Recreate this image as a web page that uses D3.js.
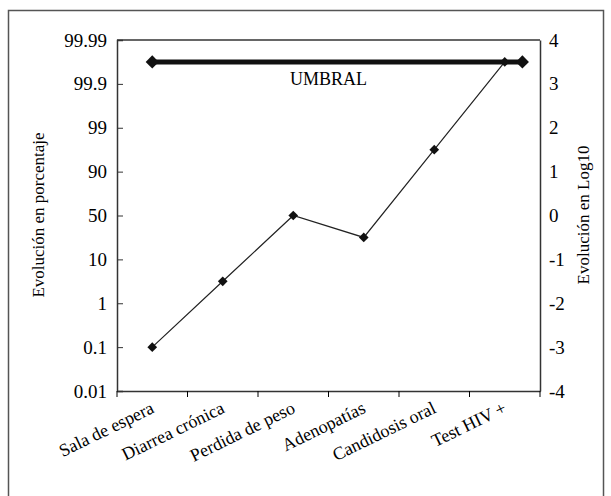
<!DOCTYPE html>
<html>
<head>
  <meta charset="utf-8" />
  <script src="https://d3js.org/d3.v7.min.js"></script>
  <style>
    body { margin: 0; background: #fff; }
    text { font-family: "Liberation Serif", "Times New Roman", serif; fill: #000; }
  </style>
</head>
<body>
  <svg id="chart" width="611" height="496"></svg>
  <script>
    // data
    const categories = ["Sala de espera", "Diarrea crónica", "Perdida de peso", "Adenopatías", "Candidosis oral", "Test HIV +"];
    const evolucion = [-3, -1.5, 0, -0.5, 1.5, 3.5];
    const umbralPos = [0, 5.25];   // in category units
    const umbralVal = [3.5, 3.5];
    const pctLabels = ["0.01", "0.1", "1", "10", "50", "90", "99", "99.9", "99.99"];
    const logTicks = [-4, -3, -2, -1, 0, 1, 2, 3, 4];

    const svg = d3.select("#chart");
    const margin = { top: 40, right: 71, bottom: 105, left: 117 };
    const width = 611 - margin.left - margin.right;
    const fs = "18px";

    // outer frame
    svg.append("rect")
      .attr("x", 8.5).attr("y", 10.5).attr("width", 595).attr("height", 500)
      .attr("fill", "none").attr("stroke", "#555").attr("stroke-width", 1.5);

    const g = svg.append("g").attr("transform", "translate(" + margin.left + "," + margin.top + ")");

    const x = d3.scaleBand().domain(categories).range([0, width]);
    const xi = d3.scaleLinear().domain([0, 1]).range([x.bandwidth() / 2, x.bandwidth() * 1.5]);
    const y = d3.scaleLinear().domain([-4, 4]).range([351, 0]);

    // left axis (percent labels on the same log scale)
    const left = g.append("g")
      .call(d3.axisLeft(y).tickValues(logTicks).tickSize(-6).tickPadding(10)
        .tickFormat((d, i) => pctLabels[i]));
    left.selectAll("text").style("font-size", "19px");

    // right axis
    const right = g.append("g").attr("transform", "translate(" + width + ",0)")
      .call(d3.axisRight(y).tickValues(logTicks).tickSize(0).tickPadding(9)
        .tickFormat(d => String(d)));
    right.selectAll("text").style("font-size", "19px");

    // bottom axis
    const bottom = g.append("g").attr("transform", "translate(0," + y(-4) + ")")
      .call(d3.axisBottom(x).tickSize(0).tickFormat(""));
    bottom.selectAll(".tick").remove();
    const edges = d3.range(categories.length + 1).map(i => i * x.step());
    bottom.selectAll("line.edge").data(edges).join("line")
      .attr("class", "edge").attr("x1", d => d).attr("x2", d => d)
      .attr("y1", 0).attr("y2", 6).attr("stroke", "#000");

    g.selectAll(".domain").attr("stroke", "#333").attr("stroke-width", 1.5);
    g.selectAll(".tick line").attr("stroke", "#333");

    // top border of the plot
    g.append("line").attr("x1", 0).attr("x2", width).attr("y1", 0).attr("y2", 0)
      .attr("stroke", "#333").attr("stroke-width", 1.5);

    g.selectAll("text.cat").data(categories).join("text")
      .attr("class", "cat")
      .attr("text-anchor", "end")
      .attr("transform", d => "translate(" + (x(d) + x.bandwidth() / 2 + 3) + "," + (y(-4) + 21) + ") rotate(-26)")
      .style("font-size", fs)
      .text(d => d);

    // axis titles
    svg.append("text")
      .attr("transform", "translate(44," + (margin.top + 175) + ") rotate(-90)")
      .attr("text-anchor", "middle").style("font-size", "17px")
      .text("Evolución en porcentaje");
    svg.append("text")
      .attr("transform", "translate(589," + (margin.top + 175) + ") rotate(-90)")
      .attr("text-anchor", "middle").style("font-size", "17px")
      .text("Evolución en Log10");

    // umbral line
    const umbral = umbralPos.map((p, i) => ({ p: p, v: umbralVal[i] }));
    g.append("path").datum(umbral)
      .attr("d", d3.line().x(d => xi(d.p)).y(d => y(d.v)))
      .attr("fill", "none").attr("stroke", "#111").attr("stroke-width", 5);
    g.selectAll("path.um").data(umbral).join("path")
      .attr("class", "um")
      .attr("transform", d => "translate(" + xi(d.p) + "," + y(d.v) + ")")
      .attr("d", d3.symbol(d3.symbolDiamond2, 110))
      .attr("fill", "#111");
    g.append("text")
      .attr("x", xi(2.5)).attr("y", y(3.5) + 23)
      .attr("text-anchor", "middle").style("font-size", fs)
      .text("UMBRAL");

    // evolution line
    const pts = categories.map((c, i) => ({ c: c, v: evolucion[i] }));
    g.append("path").datum(pts)
      .attr("d", d3.line().x(d => x(d.c) + x.bandwidth() / 2).y(d => y(d.v)))
      .attr("fill", "none").attr("stroke", "#222").attr("stroke-width", 1.2);
    g.selectAll("path.pt").data(pts).join("path")
      .attr("class", "pt")
      .attr("transform", d => "translate(" + (x(d.c) + x.bandwidth() / 2) + "," + y(d.v) + ")")
      .attr("d", d3.symbol(d3.symbolDiamond2, 60))
      .attr("fill", "#111");
  </script>
</body>
</html>
